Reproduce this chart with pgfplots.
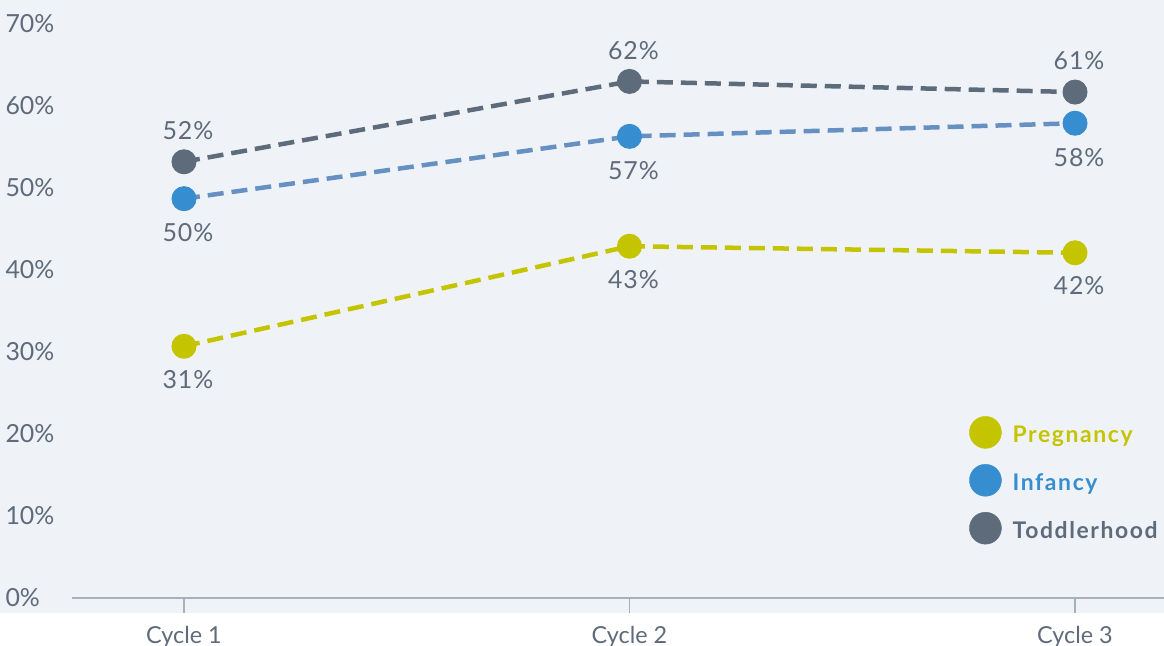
\documentclass[border=0pt]{standalone}
\usepackage{pgfplots}
\usepackage{pgfplotstable}
\pgfplotsset{compat=1.18}
\usepackage{fontspec}
\setmainfont{Lato}

\definecolor{panel}{HTML}{EFF3F8}
\definecolor{txt}{HTML}{5F6B7A}
\definecolor{tod}{HTML}{5E6B7B}
\definecolor{inf}{HTML}{368DCF}
\definecolor{infline}{HTML}{6690C2}
\definecolor{preg}{HTML}{C4C400}
\definecolor{axisgrey}{HTML}{A7B1BD}

% values, labels as printed
\pgfplotstableread{
x y lab
1 53.2 52
2 63.0 62
3 61.7 61
}\toddler
\pgfplotstableread{
x y lab
1 48.7 50
2 56.3 57
3 57.9 58
}\infancy
\pgfplotstableread{
x y lab
1 30.7 31
2 42.9 43
3 42.1 42
}\pregnancy

\begin{document}
\begin{tikzpicture}
\begin{axis}[
    scale only axis,
    width=1164bp, height=613bp,
    xmin=0.587, xmax=3.1998,
    ymin=-1.829, ymax=72.93,
    axis background/.style={fill=panel},
    axis line style={draw=none},
    major tick length=0pt,
    xtick={1,2,3},
    xticklabels={Cycle 1,Cycle 2,Cycle 3},
    ytick={0,10,...,70},
    yticklabels={0\%,10\%,20\%,30\%,40\%,50\%,60\%,70\%},
    tick label style={text=txt},
    x tick label style={anchor=base, yshift=-30bp, font=\fontsize{23.5}{27}\selectfont},
    y tick label style={anchor=west, xshift=2bp, font=\fontsize{25}{29}\selectfont},
    clip=false,
    legend cell align=left,
    legend style={at={(0.8325,0.3214)}, anchor=north west, draw=none, fill=none,
        inner sep=0pt, row sep=15.5bp, column sep=11bp,
        nodes={inner sep=0pt, font=\fontsize{23}{27}\selectfont\bfseries\addfontfeature{LetterSpace=7}}},
    line data/.style={line width=4.5bp, dash pattern=on 16bp off 8bp,
        mark=*, mark size=12bp, forget plot,
        nodes near coords={\pgfplotspointmeta\%}, point meta=explicit symbolic},
    lab/.style={every node near coord/.append style={anchor=center, yshift=#1, xshift=4bp,
        text=txt, font=\fontsize{25}{29}\selectfont\addfontfeature{LetterSpace=4}}},
]
\coordinate (TL) at (rel axis cs:0,1);

% x axis line and ticks
\draw[axisgrey, line width=1.5bp] (axis cs:0.7486,0) -- (axis cs:3.1998,0);
\draw[axisgrey, line width=1.5bp] (axis cs:1,0) -- (axis cs:1,-1.829);
\draw[axisgrey, line width=1.5bp] (axis cs:2,0) -- (axis cs:2,-1.829);
\draw[axisgrey, line width=1.5bp] (axis cs:3,0) -- (axis cs:3,-1.829);

\addlegendimage{legend image code/.code={\fill[preg] (0bp,2.5bp) circle (16bp);}}
\addlegendentry{\textcolor{preg}{Pregnancy}}
\addlegendimage{legend image code/.code={\fill[inf] (0bp,2.5bp) circle (16bp);}}
\addlegendentry{\textcolor{inf}{Infancy}}
\addlegendimage{legend image code/.code={\fill[tod] (0bp,2.5bp) circle (16bp);}}
\addlegendentry{\textcolor{tod}{Toddlerhood}}

\addplot[preg, line data, mark options={solid, fill=preg, draw=preg, line width=1bp}, lab=-33bp]
    table[x=x, y=y, meta=lab] {\pregnancy};
\addplot[infline, line data, mark options={solid, fill=inf, draw=inf, line width=1bp}, lab=-34bp]
    table[x=x, y=y, meta=lab] {\infancy};
\addplot[tod, line data, mark options={solid, fill=tod, draw=tod, line width=1bp}, lab=31bp]
    table[x=x, y=y, meta=lab] {\toddler};
\end{axis}
\pgfresetboundingbox
\path[use as bounding box] (TL) rectangle ++(1164bp,-646bp);
\end{tikzpicture}
\end{document}
